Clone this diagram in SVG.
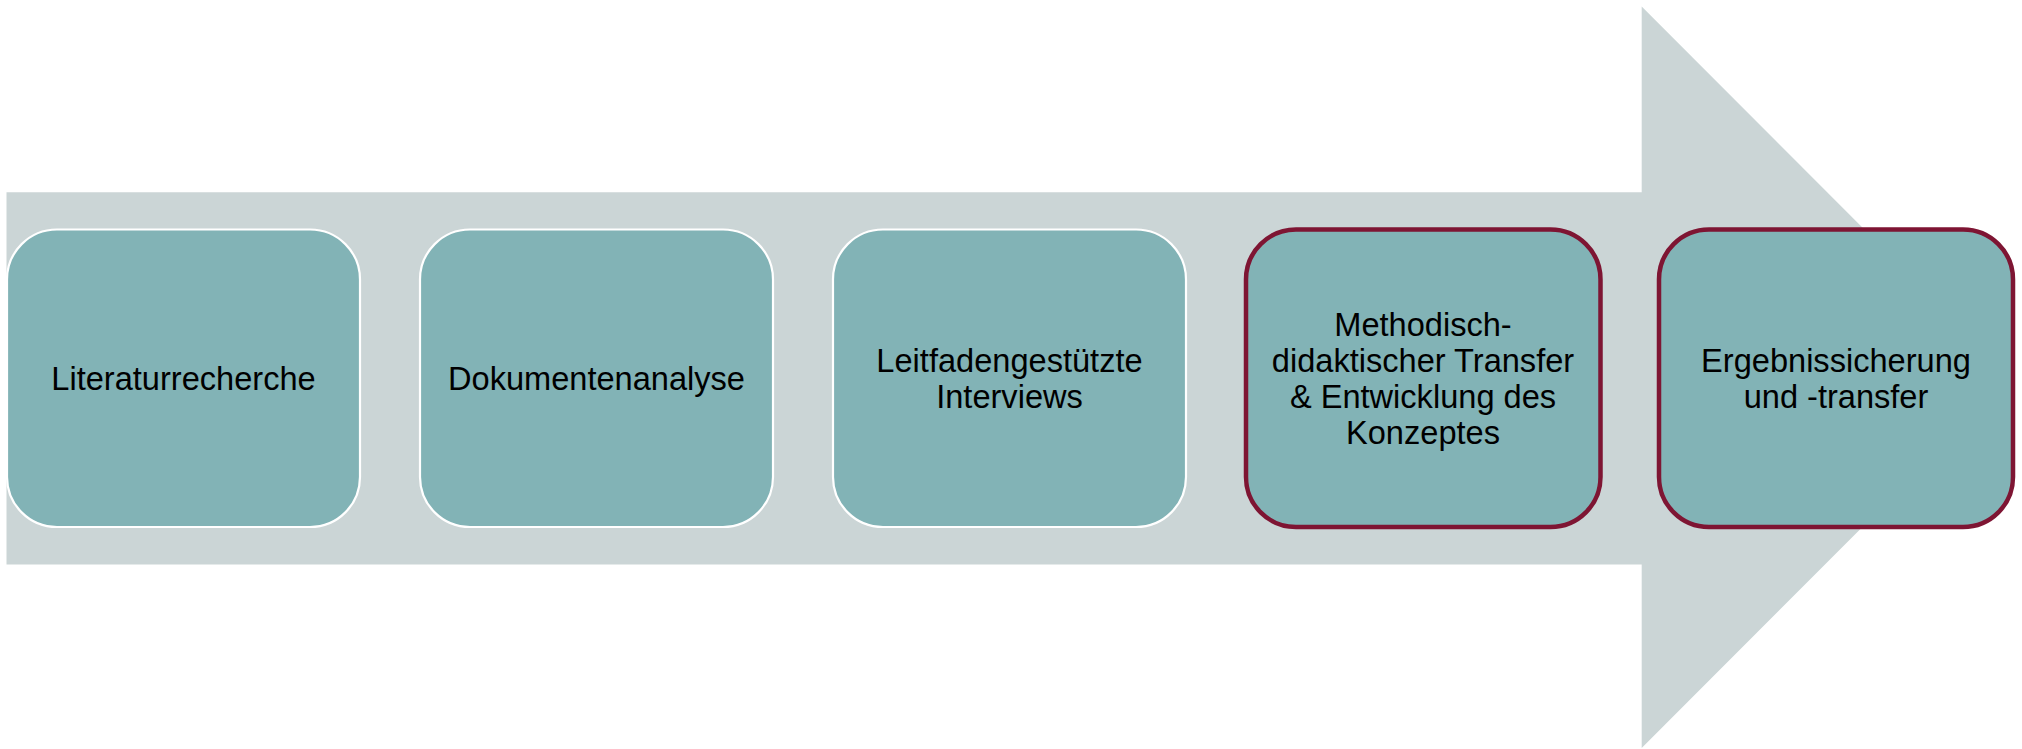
<svg xmlns="http://www.w3.org/2000/svg" width="2022" height="749" viewBox="0 0 2022 749">
<style>
.box{fill:#82B3B6;stroke:#FFFFFF;stroke-width:2.2}
.hl{stroke:#7E1533;stroke-width:4.5}
.lbl{font-family:"Liberation Sans",Arial,sans-serif;font-size:32.6px;fill:#000000;text-anchor:middle}
</style>
<rect width="2022" height="749" fill="#FFFFFF"/>
<g id="connectors">
<path id="arrow" d="M6.5,192.3 H1641.7 V6.5 L2012,377.3 L1641.7,748 V564.5 H6.5 Z" fill="#CBD5D6"/>
</g>
<g id="node1">
<rect class="box" x="7" y="229.5" width="353" height="297.5" rx="50" ry="50"/>
<text class="lbl" x="183.5" y="389.5">Literaturrecherche</text>
</g>
<g id="node2">
<rect class="box" x="420" y="229.5" width="353" height="297.5" rx="50" ry="50"/>
<text class="lbl" x="596.5" y="389.5">Dokumentenanalyse</text>
</g>
<g id="node3">
<rect class="box" x="833" y="229.5" width="353" height="297.5" rx="50" ry="50"/>
<text class="lbl" x="1009.5" y="371.5">Leitfadengestützte</text>
<text class="lbl" x="1009.5" y="407.5">Interviews</text>
</g>
<g id="node4">
<rect class="box hl" x="1246" y="229.5" width="354.5" height="297.5" rx="50" ry="50"/>
<text class="lbl" x="1423" y="336">Methodisch-</text>
<text class="lbl" x="1423" y="372">didaktischer Transfer</text>
<text class="lbl" x="1423" y="408">&amp; Entwicklung des</text>
<text class="lbl" x="1423" y="444">Konzeptes</text>
</g>
<g id="node5">
<rect class="box hl" x="1659" y="229.5" width="354" height="297.5" rx="50" ry="50"/>
<text class="lbl" x="1836" y="371.5">Ergebnissicherung</text>
<text class="lbl" x="1836" y="407.5">und -transfer</text>
</g>
</svg>
